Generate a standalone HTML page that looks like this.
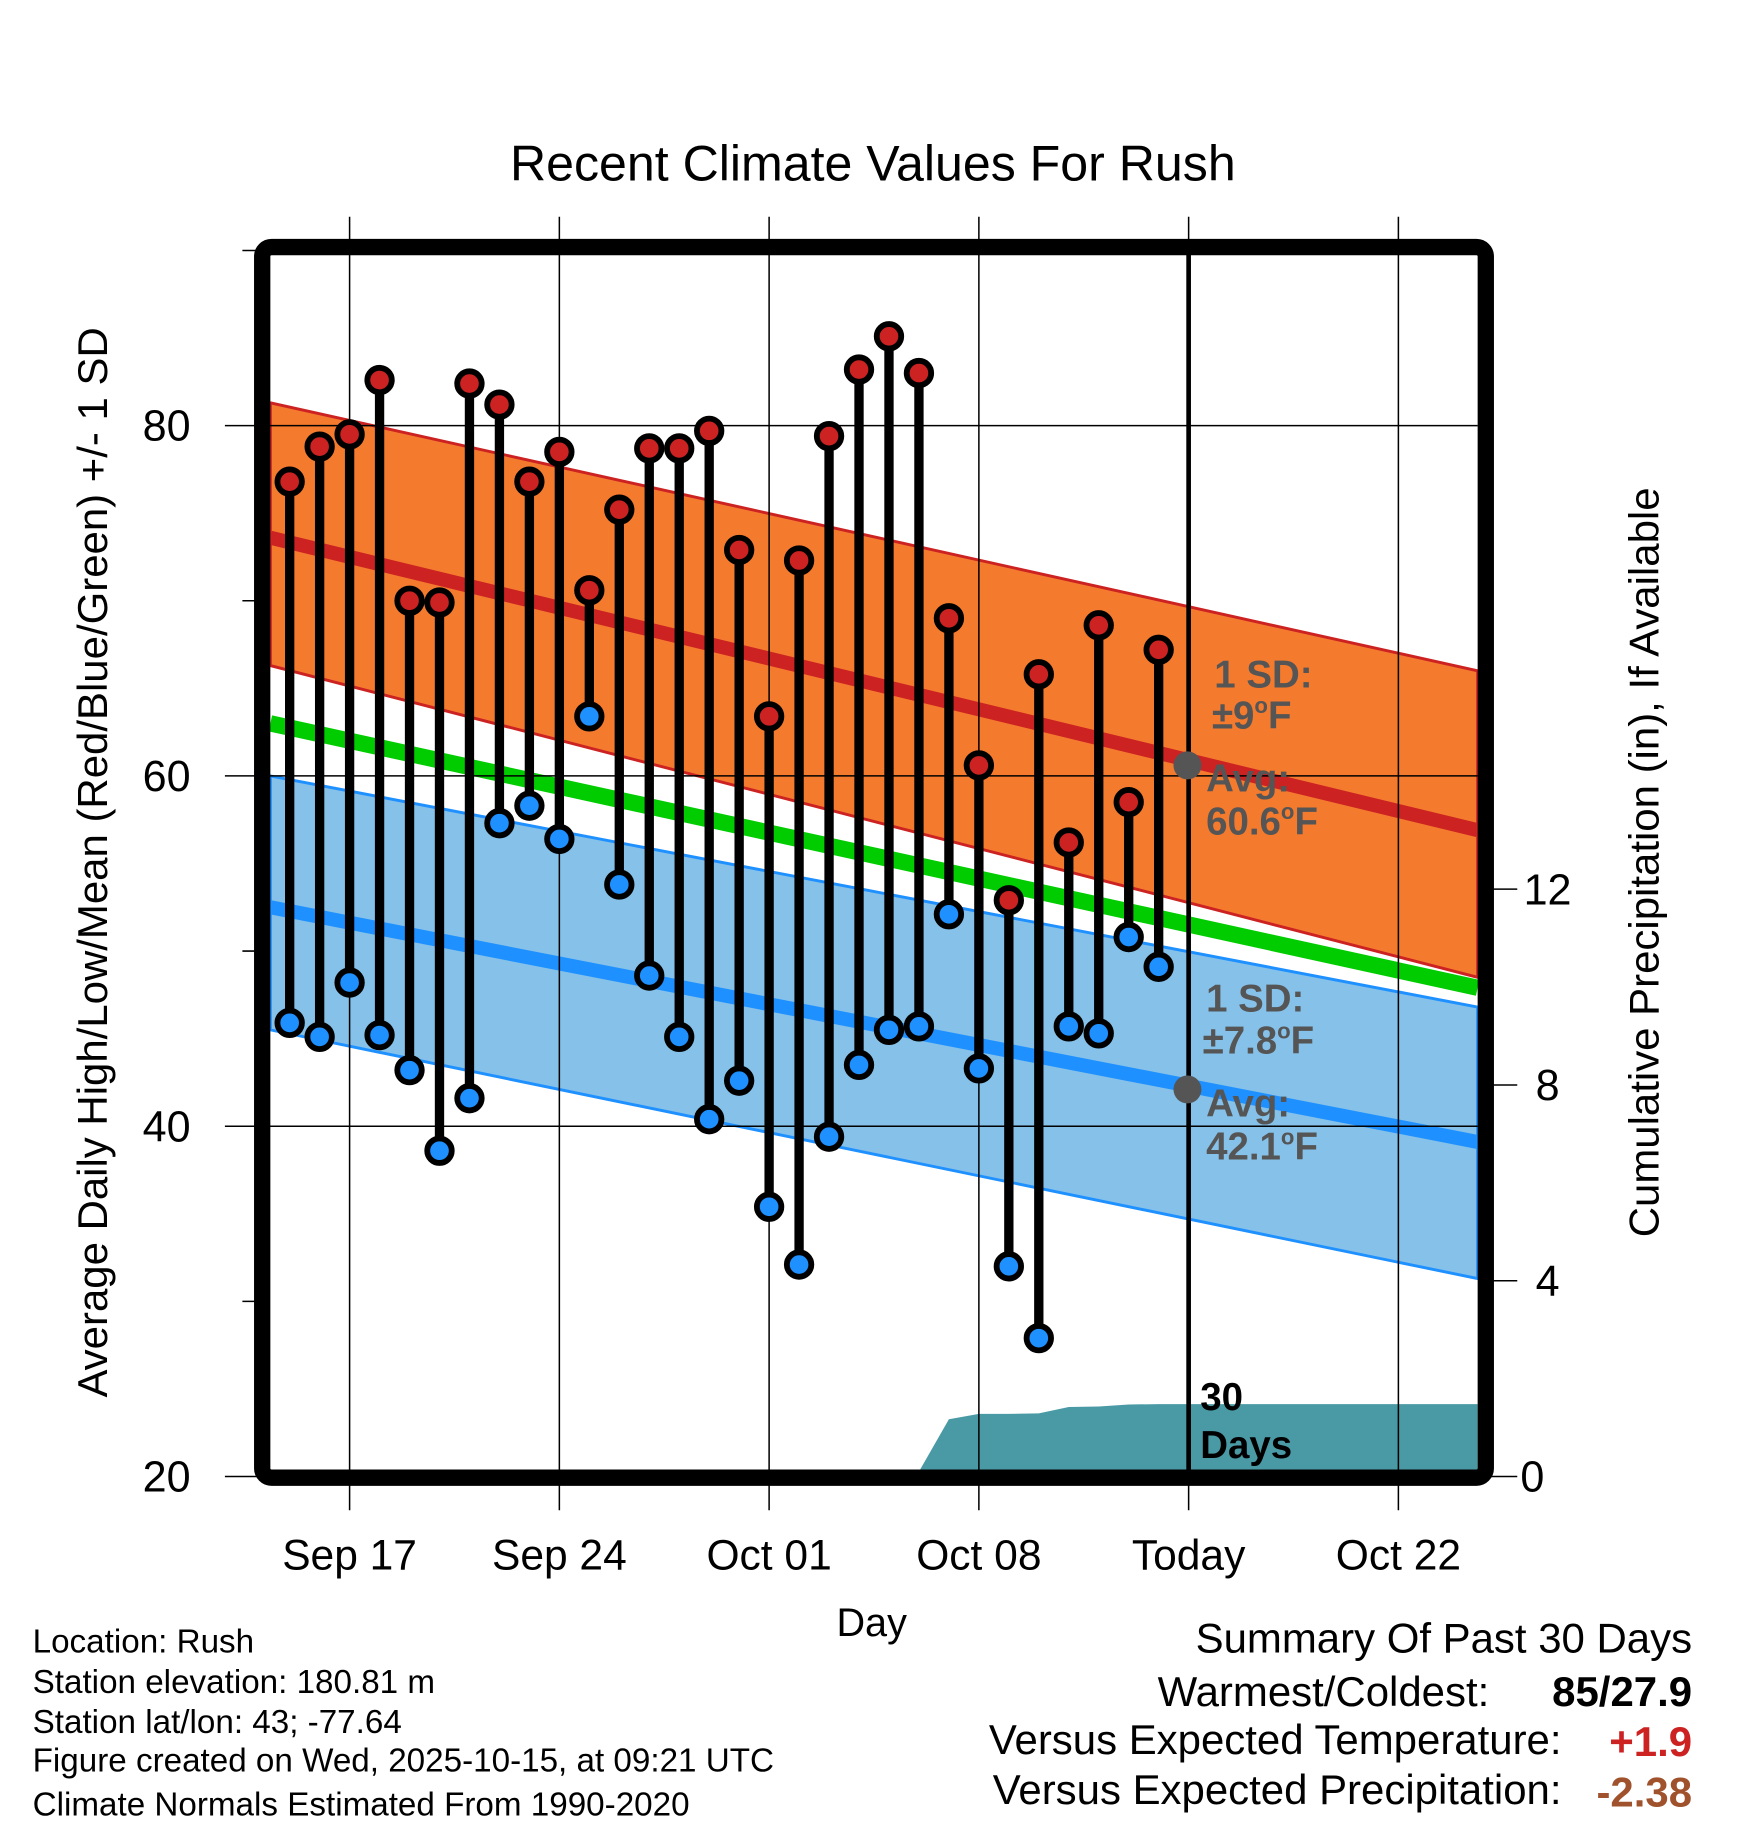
<!DOCTYPE html>
<html><head><meta charset="utf-8"><style>
html,body{margin:0;padding:0;background:#fff}
svg{display:block;font-family:"Liberation Sans",Arial,sans-serif}
</style></head><body>
<svg id="chart" width="1748" height="1828" viewBox="0 0 1500 1568.6" xmlns="http://www.w3.org/2000/svg">
<rect width="1500" height="1569" fill="#fff"/>
<text x="749" y="155" font-size="43" text-anchor="middle">Recent Climate Values For Rush</text>
<g id="bands"></g>
<g id="grid"></g>
<g id="marks"></g>
<g id="annot" font-weight="bold" font-size="33" fill="#555">
<text x="1042" y="590">1 SD:</text>
<text x="1040" y="625">±9<tspan font-size="19" dy="-13">o</tspan><tspan dy="13">F</tspan></text>
<text x="1035" y="679">Avg:</text>
<text x="1035" y="716">60.6<tspan font-size="19" dy="-13">o</tspan><tspan dy="13">F</tspan></text>
<text x="1035" y="868">1 SD:</text>
<text x="1032" y="904">±7.8<tspan font-size="19" dy="-13">o</tspan><tspan dy="13">F</tspan></text>
<text x="1035" y="958">Avg:</text>
<text x="1035" y="995">42.1<tspan font-size="19" dy="-13">o</tspan><tspan dy="13">F</tspan></text>
<text x="1030" y="1210" fill="#000">30</text>
<text x="1030" y="1251" fill="#000">Days</text>
</g>
<rect x="225" y="212" width="1050" height="1056" rx="8" fill="none" stroke="#000" stroke-width="14"/>
<text x="748" y="1404" font-size="34" text-anchor="middle">Day</text>
<text transform="translate(92,740) rotate(-90)" font-size="36" text-anchor="middle">Average Daily High/Low/Mean (Red/Blue/Green) +/- 1 SD</text>
<text transform="translate(1423,740) rotate(-90)" font-size="36" text-anchor="middle">Cumulative Precipitation (in), If Available</text>
<g font-size="28.5">
<text x="28" y="1418">Location: Rush</text>
<text x="28" y="1453">Station elevation: 180.81 m</text>
<text x="28" y="1487">Station lat/lon: 43; -77.64</text>
<text x="28" y="1520">Figure created on Wed, 2025-10-15, at 09:21 UTC</text>
<text x="28" y="1558">Climate Normals Estimated From 1990-2020</text>
</g>
<g font-size="36" text-anchor="end">
<text x="1452" y="1418">Summary Of Past 30 Days</text>
<text x="1278" y="1464">Warmest/Coldest:</text>
<text x="1452" y="1464" font-weight="bold">85/27.9</text>
<text x="1340" y="1505">Versus Expected Temperature:</text>
<text x="1452" y="1507" font-weight="bold" fill="#cc2222">+1.9</text>
<text x="1340" y="1548">Versus Expected Precipitation:</text>
<text x="1452" y="1550" font-weight="bold" fill="#a0522d">-2.38</text>
</g>
</svg>
<script>
const highs=[76.8,78.8,79.5,82.6,70.0,69.9,82.4,81.2,76.8,78.5,70.6,75.2,78.7,78.7,79.7,72.9,63.4,72.3,79.4,83.2,85.1,83.0,69.0,60.6,52.9,65.8,56.2,68.6,58.5,67.2];
const lows=[45.9,45.1,48.2,45.2,43.2,38.6,41.6,57.3,58.3,56.4,63.4,53.8,48.6,45.1,40.4,42.6,35.4,32.1,39.4,43.5,45.5,45.7,52.1,43.3,32.0,27.9,45.7,45.3,50.8,49.1];
const precip=[0,0,0,0,0,0,0,0,0,0,0,0,0,0,0.02,0.03,0.05,0.06,0.07,0.08,0.1,0.1,1.17,1.28,1.28,1.29,1.42,1.43,1.47,1.48,1.48];
const highMean=[73.6,56.9], highUp=[81.3,66.0], highLo=[66.3,48.5];
const meanNorm=[63.0,47.9];
const lowMean=[52.5,39.1], lowUp=[60.0,46.8], lowLo=[45.5,31.3];
const leftTicks=[20,40,60,80], minorTicks=[30,50,70,90], rightTicks=[0,4,8,12];
const xTickDays=[2,9,16,23,30,37];
const xTickLabels=["Sep 17","Sep 24","Oct 01","Oct 08","Today","Oct 22"];
const todayAvgHigh=60.6, todayAvgLow=42.1, todayDay=30;

const NS="http://www.w3.org/2000/svg";
const X0=232,X1=1268;
const xs=d=>300+(d-2)*25.714;
const ys=v=>1267-(v-20)*15.03;
const yp=p=>1267-p*42;
function mk(tag,attrs,parent){const e=document.createElementNS(NS,tag);for(const k in attrs)e.setAttribute(k,attrs[k]);parent.appendChild(e);return e;}
const bands=document.getElementById('bands'),grid=document.getElementById('grid'),marks=document.getElementById('marks');
function band(up,lo,fill,stroke,name){
  const p=mk('polygon',{points:`${X0},${ys(up[0])} ${X1},${ys(up[1])} ${X1},${ys(lo[1])} ${X0},${ys(lo[0])}`,fill:fill,stroke:stroke,'stroke-width':2.5},bands);
  
  
}
function line(v,color,w,name){
  const l=mk('line',{x1:X0,y1:ys(v[0]),x2:X1,y2:ys(v[1]),stroke:color,'stroke-width':w},bands);
  
  
}
band(lowUp,lowLo,'#85c1e9','#1e90ff','low-sd-band');
band(highUp,highLo,'#f47a2e','#cc2222','high-sd-band');
line(meanNorm,'#00cc00',14,'mean-normal-line');
line(highMean,'#cc2222',12,'high-normal-line');
line(lowMean,'#1e90ff',12,'low-normal-line');
let pts=`${X0},${yp(0)} `;
precip.forEach((p,i)=>{pts+=`${xs(i)},${yp(p)} `;});
pts+=`${X1},${yp(precip[precip.length-1])} ${X1},${yp(0)}`;
const area=mk('polygon',{points:pts,fill:'#4a9aa5'},bands);


xTickDays.forEach((d,i)=>{
  const g=mk('line',{x1:xs(d),y1:186,x2:xs(d),y2:1296,stroke:'#000','stroke-width':1.3},grid);
  
  
  const t=mk('text',{x:xs(d),y:1347,'font-size':36.5,'text-anchor':'middle'},grid);
  t.textContent=xTickLabels[i];
  
  
});
leftTicks.forEach(v=>{
  const g=mk('line',{x1:193,y1:ys(v),x2:v==20?225:X1,y2:ys(v),stroke:'#000','stroke-width':1.3},grid);
  
  
  const t=mk('text',{x:143,y:ys(v)+13,'font-size':37,'text-anchor':'middle'},grid);
  t.textContent=v;
  
  
});
minorTicks.forEach(v=>{
  const g=mk('line',{x1:208,y1:ys(v),x2:225,y2:ys(v),stroke:'#000','stroke-width':1.3},grid);
  
  
});
rightTicks.forEach(v=>{
  const g=mk('line',{x1:1275,y1:yp(v),x2:1302,y2:yp(v),stroke:'#000','stroke-width':1.3},grid);
  
  
  const t=mk('text',{x:v==0?1315:1328,y:yp(v)+13,'font-size':37,'text-anchor':'middle'},grid);
  t.textContent=v;
  
  
});
const tl=mk('line',{x1:xs(todayDay),y1:212,x2:xs(todayDay),y2:1268,stroke:'#000','stroke-width':4},grid);


highs.forEach((h,i)=>{
  const x=xs(i);
  const s=mk('line',{x1:x,y1:ys(h),x2:x,y2:ys(lows[i]),stroke:'#000','stroke-width':8},marks);
  
  
  const c1=mk('circle',{cx:x,cy:ys(h),r:10.5,fill:'#cc2222',stroke:'#000','stroke-width':5},marks);
  
  
  const c2=mk('circle',{cx:x,cy:ys(lows[i]),r:10.5,fill:'#1e90ff',stroke:'#000','stroke-width':5},marks);
  
  
});
const g1=mk('circle',{cx:xs(todayDay)-1,cy:ys(todayAvgHigh),r:12,fill:'#555'},marks);


const g2=mk('circle',{cx:xs(todayDay)-1,cy:ys(todayAvgLow),r:12,fill:'#555'},marks);


</script>
</body></html>
